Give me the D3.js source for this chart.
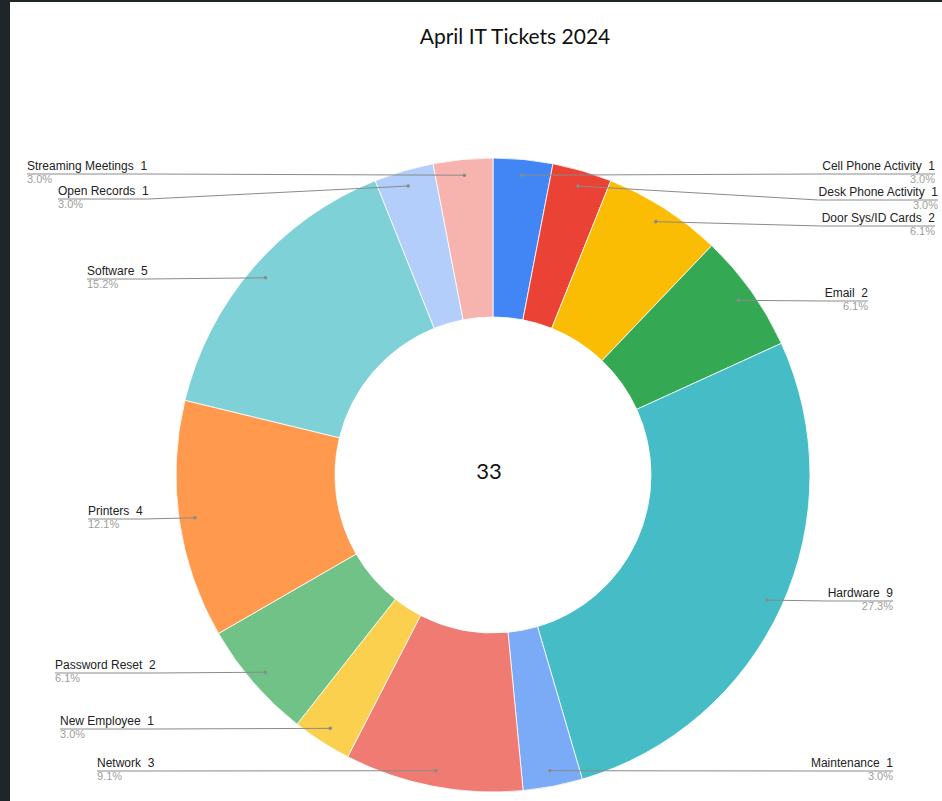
<!DOCTYPE html>
<html><head><meta charset="utf-8">
<script src="https://cdn.jsdelivr.net/npm/d3@7"></script>
<style>
html,body{margin:0;padding:0;background:#fff;}
svg{display:block;}
text{white-space:pre;}
</style></head>
<body>
<svg id="chart" width="942" height="801"></svg>
<script>
// ---- data ----
const title = "April IT Tickets 2024";
const categories = ["Cell Phone Activity","Desk Phone Activity","Door Sys/ID Cards","Email","Hardware","Maintenance","Network","New Employee","Password Reset","Printers","Software","Open Records","Streaming Meetings"];
const counts = [1,1,2,2,9,1,3,1,2,4,5,1,1];
const colors = ["#4285f4","#ea4335","#fbbc04","#34a853","#46bdc6","#7baaf7","#f07b72","#fcd04f","#71c287","#ff994d","#7ed1d7","#b3cefb","#f7b4ae"];

// ---- layout (label anchors) ----
const labelSide = ["R","R","R","R","R","R","L","L","L","L","L","L","L"];
const labelX    = [935,938,935,868,893,893,97,60,55,88,87,58,27];
const labelLineY= [174,200,226,301,601,771,771,729,673,519,279,199,174];

const W = 942, H = 801;
const cx = 493, cy = 475, R = 317, r0 = 158;
const svg = d3.select("#chart");

// frame
svg.append("rect").attr("x",0).attr("y",0).attr("width",W).attr("height",H).attr("fill","#1f2629");
svg.append("rect").attr("x",10).attr("y",2).attr("width",W-10).attr("height",H-2).attr("fill","#fff");

svg.append("text").attr("x",515).attr("y",44).attr("text-anchor","middle")
  .attr("font-family","Lato, 'Open Sans', sans-serif").attr("font-size",21).attr("fill","#111").text(title);

const total = d3.sum(counts);
const data = categories.map((c,i)=>({name:c,value:counts[i],color:colors[i],i}));
const pie = d3.pie().value(d=>d.value).sort(null);
const arcs = pie(data);
const arc = d3.arc().innerRadius(r0).outerRadius(R);
const g = svg.append("g").attr("transform",`translate(${cx},${cy})`);
g.selectAll("path").data(arcs).join("path")
  .attr("d",arc).attr("fill",d=>d.data.color).attr("stroke","#fff").attr("stroke-width",0.8);

g.append("text").attr("x",-4).attr("y",-2).attr("text-anchor","middle").attr("dominant-baseline","middle")
  .attr("font-family","Lato, 'Open Sans', sans-serif").attr("font-size",22).attr("fill","#111").text(String(total));

// labels
const pointArc = d3.arc().innerRadius(0.95*R).outerRadius(0.95*R);
const lab = svg.append("g").attr("font-family","'Liberation Sans', Arial, sans-serif");
arcs.forEach((a,k)=>{
  const i = a.data.i;
  const [px,py] = pointArc.centroid(a);
  const ptx = cx+px, pty = cy+py;
  const side = labelSide[i], x = labelX[i], ly = labelLineY[i];
  const t = lab.append("text").attr("y",ly-4).attr("fill","#222").attr("font-size",12)
    .attr("x",x).attr("text-anchor",side==="L"?"start":"end").text(a.data.name+"  "+a.data.value);
  const w = t.node().getComputedTextLength();
  lab.append("text").attr("x",x).attr("y",ly+9).attr("fill","#9e9e9e").attr("font-size",11)
    .attr("text-anchor",side==="L"?"start":"end").text((a.data.value/total*100).toFixed(1)+"%");
  let pts;
  if(side==="L") pts=[[x,ly],[x+w,ly],[ptx,pty]];
  else pts=[[x,ly],[x-w,ly],[ptx,pty]];
  lab.append("path").attr("d",d3.line()(pts)).attr("fill","none").attr("stroke","#8a8a8a").attr("stroke-width",1);
  lab.append("circle").attr("cx",ptx).attr("cy",pty).attr("r",1.8).attr("fill","#8a8a8a");
});
</script>
</body></html>
